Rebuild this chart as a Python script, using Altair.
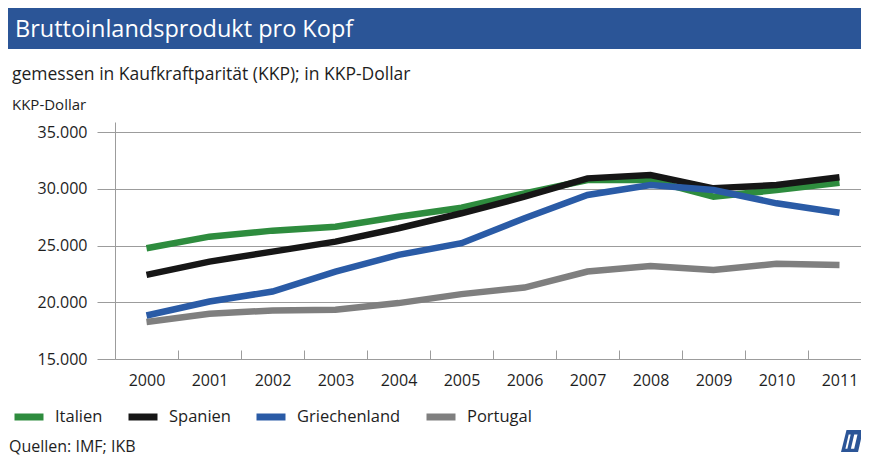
import altair as alt
import pandas as pd

years = ["2000", "2001", "2002", "2003", "2004", "2005", "2006", "2007", "2008", "2009", "2010", "2011"]
italien = [24770, 25790, 26320, 26670, 27550, 28340, 29610, 30780, 30780, 29310, 29900, 30540]
spanien = [22420, 23590, 24470, 25350, 26530, 27850, 29310, 30930, 31220, 30050, 30340, 31020]
griechenland = [18840, 20070, 20950, 22710, 24180, 25210, 27410, 29460, 30340, 29900, 28730, 27900]
portugal = [18260, 18990, 19280, 19340, 19930, 20720, 21300, 22710, 23210, 22860, 23390, 23300]

countries = ["Italien", "Spanien", "Griechenland", "Portugal"]
colors = ["#2e8c3e", "#161616", "#2a5ba6", "#7f7f7f"]
y_ticks = [15000, 20000, 25000, 30000, 35000]

title_text = ["Bruttoinlandsprodukt pro Kopf"]
subtitle_text = ["gemessen in Kaufkraftparität (KKP); in KKP-Dollar"]
unit_text = ["KKP-Dollar"]
source_text = ["Quellen: IMF; IKB"]

series = {"Italien": italien, "Spanien": spanien, "Griechenland": griechenland, "Portugal": portugal}
rows = []
for land, vals in series.items():
    for j, v in zip(years, vals):
        rows.append({"Jahr": j, "Land": land, "Wert": v})
df = pd.DataFrame(rows)

FONT = "Open Sans"
GRID = "#9c9c9c"
TXT = "#1e1e1e"
BAR = "#2b5597"

base = alt.Chart(df).encode(
    x=alt.X("Jahr:O",
            scale=alt.Scale(range=[0, 756], paddingInner=0, paddingOuter=0),
            axis=alt.Axis(title=None, tickBand="extent", tickSize=9, offset=-9,
                          domain=False, grid=False, labelAngle=0, labelPadding=13,
                          labelFont=FONT, labelFontSize=16, labelColor=TXT,
                          tickColor=GRID, tickWidth=1)),
    y=alt.Y("Wert:Q",
            scale=alt.Scale(domain=[15000, 35900], nice=False, zero=False),
            axis=alt.Axis(title=None, values=y_ticks, tickSize=18, tickColor=GRID,
                          domainColor=GRID, gridColor=GRID, grid=True,
                          labelFont=FONT, labelFontSize=16, labelColor=TXT, labelPadding=10,
                          labelExpr="replace(format(datum.value, ',d'), ',', '.')")),
    color=alt.Color("Land:N",
                    scale=alt.Scale(domain=countries, range=colors),
                    legend=alt.Legend(orient="none", legendX=-104, legendY=277,
                                      direction="horizontal", title=None,
                                      symbolType="stroke", symbolSize=841,
                                      symbolStrokeWidth=7, labelFont=FONT,
                                      labelFontSize=16.5, labelColor=TXT,
                                      labelOffset=8, columnPadding=11, padding=0)),
)

draw_order = ["Portugal", "Italien", "Spanien", "Griechenland"]
lines = [base.transform_filter(alt.datum.Land == c).mark_line(strokeWidth=6.5)
         for c in draw_order]

bar = alt.Chart(pd.DataFrame({"a": [0]})).mark_rect(color=BAR).encode(
    x=alt.value(-107), x2=alt.value(746), y=alt.value(-114), y2=alt.value(-73))


def txt(label, x, y, size, color=TXT):
    return alt.Chart(pd.DataFrame({"label": label})).mark_text(
        align="left", baseline="alphabetic", font=FONT, fontSize=size, color=color
    ).encode(x=alt.value(x), y=alt.value(y), text="label:N")


title = txt(title_text, -100, -85, 23.5, "white")
subtitle = txt(subtitle_text, -103, -42, 17.5)
unit = txt(unit_text, -103, -12, 15)
source = txt(source_text, -106, 330, 16)

logo_blue = alt.Chart(pd.DataFrame({"a": [0]})).mark_point(
    shape="M -0.5 -1 L 1 -1 L 0.55 1 L -1 1 Z", filled=True, color=BAR, opacity=1, size=484
).encode(x=alt.value(737), y=alt.value(319))
logo_white = alt.Chart(pd.DataFrame({"a": [0]})).mark_point(
    shape="M -0.6 0.7 L -0.3 -0.6 L -0.12 -0.6 L -0.42 0.7 Z M -0.1 0.7 L 0.2 -0.6 L 0.5 -0.6 L 0.2 0.7 Z",
    filled=True, color="white", opacity=1, size=484
).encode(x=alt.value(737), y=alt.value(319))

chart = alt.layer(bar, title, subtitle, unit, source, *lines, logo_blue, logo_white).properties(
    width=746, height=237,
    autosize=alt.AutoSizeParams(type="none"),
    padding={"left": 107, "top": 114, "right": 0, "bottom": 99},
    background="white",
).configure_view(stroke=None)

chart.save("out.html", embed_options={"renderer": "svg", "actions": False})
